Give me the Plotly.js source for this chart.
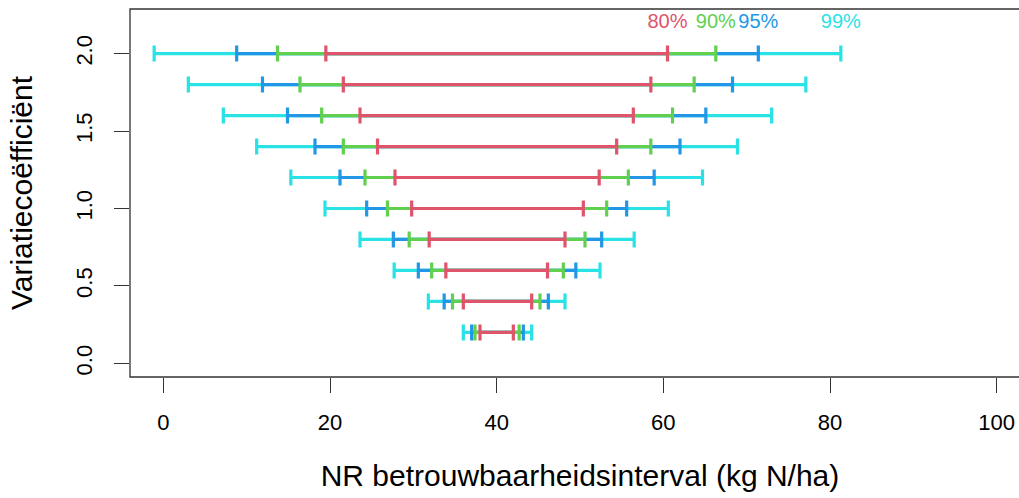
<!DOCTYPE html>
<html>
<head>
<meta charset="utf-8">
<script src="https://cdn.plot.ly/plotly-3.0.1.min.js"></script>
<style>
html, body { margin: 0; padding: 0; overflow: hidden; background: #fff; }
#chart { width: 1040px; height: 498px; }
</style>
</head>
<body>
<div id="chart"></div>
<script>
// Variatiecoëfficiënt (y positions of the intervals)
const cv = [0.2, 0.4, 0.6, 0.8, 1.0, 1.2, 1.4, 1.6, 1.8, 2.0];

// Interval bounds (kg N/ha)
const lo80 = [38.0, 36.0, 33.9, 31.9, 29.8, 27.8, 25.7, 23.6, 21.6, 19.5];
const hi80 = [42.0, 44.2, 46.1, 48.2, 50.4, 52.3, 54.4, 56.4, 58.5, 60.5];
const lo90 = [37.4, 34.7, 32.2, 29.5, 26.9, 24.2, 21.6, 19.0, 16.4, 13.7];
const hi90 = [42.7, 45.2, 48.0, 50.6, 53.2, 55.8, 58.5, 61.1, 63.7, 66.3];
const lo95 = [37.0, 33.7, 30.6, 27.6, 24.4, 21.2, 18.2, 14.9, 11.9, 8.8];
const hi95 = [43.2, 46.2, 49.5, 52.6, 55.6, 58.9, 62.0, 65.1, 68.3, 71.4];
const lo99 = [36.0, 31.8, 27.7, 23.6, 19.4, 15.3, 11.2, 7.2, 3.0, -1.1];
const hi99 = [44.2, 48.2, 52.4, 56.5, 60.6, 64.7, 68.9, 73.0, 77.1, 81.3];

const levelLabels = ["80%", "90%", "95%", "99%"];
const labelY = 2.2;

const xTicks = [0, 20, 40, 60, 80, 100];
const yTicks = [0.0, 0.5, 1.0, 1.5, 2.0];
const yTickText = ["0.0", "0.5", "1.0", "1.5", "2.0"];

const colors = { "80%": "#DF536B", "90%": "#61D04F", "95%": "#2297E6", "99%": "#28E2E5" };

function intervalTrace(lo, hi, color, name) {
  const mid = lo.map((l, i) => (l + hi[i]) / 2);
  return {
    type: "scatter",
    mode: "markers",
    name: name,
    x: mid,
    y: cv,
    marker: { size: 1, opacity: 0, color: color },
    error_x: {
      type: "data",
      symmetric: false,
      array: hi.map((h, i) => h - mid[i]),
      arrayminus: mid.map((m, i) => m - lo[i]),
      color: color,
      thickness: 3.2,
      width: 8
    },
    hoverinfo: "skip",
    showlegend: false
  };
}

const data = [
  intervalTrace(lo99, hi99, colors["99%"], "99%"),
  intervalTrace(lo95, hi95, colors["95%"], "95%"),
  intervalTrace(lo90, hi90, colors["90%"], "90%"),
  intervalTrace(lo80, hi80, colors["80%"], "80%"),
  {
    type: "scatter",
    mode: "text",
    x: [hi80[hi80.length - 1], hi90[hi90.length - 1], hi95[hi95.length - 1], hi99[hi99.length - 1]],
    y: levelLabels.map(() => labelY),
    text: levelLabels,
    textposition: "middle center",
    textfont: { family: "Liberation Sans, Arial, sans-serif", size: 20, color: levelLabels.map(l => colors[l]) },
    hoverinfo: "skip",
    showlegend: false
  }
];

const font = { family: "Liberation Sans, Arial, sans-serif", color: "#000" };

const layout = {
  width: 1040,
  height: 498,
  margin: { l: 130, r: 10, t: 9, b: 121 },
  paper_bgcolor: "#fff",
  plot_bgcolor: "#fff",
  font: font,
  showlegend: false,
  xaxis: {
    range: [-4, 104],
    tickvals: xTicks,
    ticktext: xTicks.map(String),
    ticks: "outside",
    ticklen: 15,
    tickwidth: 1,
    tickcolor: "#333",
    ticklabelstandoff: 11,
    tickfont: { family: font.family, size: 22, color: "#000" },
    showgrid: false,
    zeroline: false,
    showline: false,
    title: { text: "NR betrouwbaarheidsinterval (kg N/ha)", font: { family: font.family, size: 30, color: "#000" }, standoff: 30 }
  },
  yaxis: {
    range: [-0.088, 2.288],
    tickvals: yTicks,
    ticktext: yTickText,
    tickangle: -90,
    ticks: "outside",
    ticklen: 15,
    tickwidth: 1,
    tickcolor: "#333",
    ticklabelstandoff: 13,
    tickfont: { family: font.family, size: 22, color: "#000" },
    showgrid: false,
    zeroline: false,
    showline: false,
    title: { text: "Variatiecoëfficiënt", font: { family: font.family, size: 30, color: "#000" }, standoff: 30 }
  },
  shapes: [
    { type: "rect", xref: "paper", yref: "paper", x0: 0, x1: 1, y0: 0, y1: 1, line: { color: "#333", width: 1.3 }, fillcolor: "rgba(0,0,0,0)" }
  ]
};

Plotly.newPlot("chart", data, layout, { displayModeBar: false, staticPlot: true });
</script>
</body>
</html>
